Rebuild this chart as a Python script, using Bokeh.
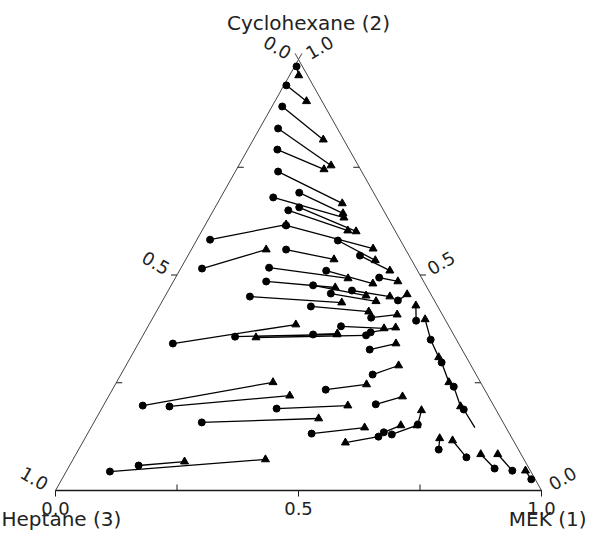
import numpy as np
from bokeh.plotting import figure
from bokeh.core.properties import value
from bokeh.embed import file_html
from bokeh.resources import INLINE

# ---- data: mole fractions (MEK = x1, Cyclohexane = x2; Heptane = 1 - x1 - x2)
# tie lines: circle end -> triangle end
circle_mek = [0.004, 0.005, 0.021, 0.038, 0.061, 0.088, 0.156, 0.108, 0.173, 0.154,
              0.027, 0.167, 0.354, 0.291, 0.044, 0.195, 0.181, 0.302, 0.419, 0.191,
              0.292, 0.378, 0.338, 0.484, 0.175, 0.312, 0.449, 0.545, 0.071, 0.191,
              0.459, 0.349, 0.397, 0.465, 0.483, 0.518, 0.439, 0.559, 0.360, 0.081,
              0.137, 0.222, 0.461, 0.602, 0.608, 0.627, 0.669, 0.090, 0.142, 0.741,
              0.807, 0.878, 0.917, 0.966]
circle_cyc = [0.984, 0.940, 0.891, 0.840, 0.791, 0.740, 0.691, 0.680, 0.657, 0.650,
              0.582, 0.615, 0.545, 0.580, 0.515, 0.559, 0.517, 0.510, 0.494, 0.485,
              0.476, 0.464, 0.457, 0.441, 0.450, 0.427, 0.401, 0.394, 0.341, 0.357,
              0.360, 0.362, 0.381, 0.367, 0.327, 0.269, 0.234, 0.200, 0.190, 0.197,
              0.195, 0.158, 0.132, 0.125, 0.135, 0.130, 0.153, 0.044, 0.058, 0.095,
              0.077, 0.051, 0.046, 0.026]
tri_mek = [0.019, 0.065, 0.144, 0.190, 0.180, 0.257, 0.270, 0.277, 0.318, 0.300,
           0.166, 0.373, 0.433, 0.391, 0.154, 0.305, 0.356, 0.413, 0.462, 0.340,
           0.413, 0.463, 0.440, 0.496, 0.371, 0.437, 0.499, 0.527, 0.302, 0.398,
           0.235, 0.398, 0.488, 0.511, 0.530, 0.561, 0.517, 0.605, 0.503, 0.322,
           0.372, 0.458, 0.563, 0.541, 0.635, 0.668, 0.660, 0.396, 0.232, 0.730,
           0.759, 0.833, 0.868, 0.944]
tri_cyc = [0.963, 0.903, 0.814, 0.754, 0.745, 0.666, 0.643, 0.633, 0.601, 0.603,
           0.617, 0.561, 0.510, 0.534, 0.559, 0.536, 0.492, 0.480, 0.485, 0.471,
           0.452, 0.450, 0.439, 0.455, 0.436, 0.415, 0.408, 0.429, 0.385, 0.362,
           0.355, 0.364, 0.376, 0.378, 0.341, 0.290, 0.246, 0.218, 0.197, 0.251,
           0.220, 0.167, 0.146, 0.111, 0.151, 0.151, 0.186, 0.072, 0.067, 0.121,
           0.116, 0.084, 0.084, 0.046]

# near-plait-point chain of short tie lines on the right
chain_mek = [0.562, 0.597, 0.634, 0.646, 0.684, 0.699, 0.736, 0.746, 0.790]
chain_cyc = [0.397, 0.350, 0.309, 0.297, 0.251, 0.241, 0.195, 0.188, 0.146]
chain_mark = ["triangle", "circle", "triangle", "circle", "triangle", "circle",
              "triangle", "circle", "none"]

tick_minor = [0.25, 0.75]
tick_major = [0.0, 0.5, 1.0]
major_labels = ["0.0", "0.5", "1.0"]
title_bottom_left = "Heptane (3)"
title_bottom_right = "MEK (1)"
title_top = "Cyclohexane (2)"

# ---- geometry (pixels per unit of the ternary frame)
PX, PY = 486.0, 431.0
W, H = 587, 530
LEFT_PAD, BOTTOM_PAD = 55, 40


def tern(x1, x2):
    x1 = np.asarray(x1, float)
    x2 = np.asarray(x2, float)
    return x1 + 0.5 * x2, x2


p = figure(width=W, height=H,
           x_range=(-LEFT_PAD / PX, (W - LEFT_PAD) / PX),
           y_range=(-BOTTOM_PAD / PY, (H - BOTTOM_PAD) / PY),
           output_backend="svg", toolbar_location=None,
           x_axis_type=None, y_axis_type=None, min_border=0)
p.outline_line_color = None
p.background_fill_color = "white"
p.border_fill_color = "white"

INK = "#1a1a1a"

# triangle frame (with small "x" overshoot at apex)
ext = 7.0 / np.hypot(0.5 * PX, PY)
p.line([0, 0.5 + 0.5 * ext], [0, 1 + ext], line_color="#444444", line_width=1)
p.line([1, 0.5 - 0.5 * ext], [0, 1 + ext], line_color="#444444", line_width=1)
p.line([0, 1], [0, 0], line_color=INK, line_width=1.6)

# ticks
tl = 6.0
bx0, by0, bx1, by1 = [], [], [], []
for v in tick_minor:
    bx0.append(v); by0.append(0); bx1.append(v); by1.append(tl / PY)
for v in tick_major:
    bx0.append(v); by0.append(0); bx1.append(v); by1.append(-tl / PY)
p.segment(bx0, by0, bx1, by1, line_color=INK, line_width=1)

sx0, sy0, sx1, sy1 = [], [], [], []
for v in tick_minor + [0.5]:
    inward = v in tick_minor
    c = 1 - v
    lx, ly = tern(0, c)
    d = (tl if inward else -tl) / PX
    sx0.append(float(lx)); sy0.append(float(ly)); sx1.append(float(lx) + d); sy1.append(float(ly))
    rx, ry = tern(1 - v, v)
    sx0.append(float(rx)); sy0.append(float(ry)); sx1.append(float(rx) - d); sy1.append(float(ry))
p.segment(sx0, sy0, sx1, sy1, line_color=INK, line_width=1)

# tie lines
cx, cy = tern(circle_mek, circle_cyc)
tx, ty = tern(tri_mek, tri_cyc)
p.segment(cx, cy, tx, ty, line_color="black", line_width=1.3)

chx, chy = tern(chain_mek, chain_cyc)
p.line(chx, chy, line_color="black", line_width=1.3)

p.scatter(cx, cy, marker="circle", size=7, color="black")
p.scatter(tx, ty, marker="triangle", size=8, color="black")
ch_c = [i for i, m in enumerate(chain_mark) if m == "circle"]
ch_t = [i for i, m in enumerate(chain_mark) if m == "triangle"]
p.scatter(chx[ch_c], chy[ch_c], marker="circle", size=7, color="black")
p.scatter(chx[ch_t], chy[ch_t], marker="triangle", size=8, color="black")

FONT = value("DejaVu Sans")
TCOL = "#222222"

# bottom labels (MEK)
p.text(x=tick_major, y=[-18 / PY] * 3, text=major_labels, text_font=FONT,
       text_font_size="18px", text_align="center", text_baseline="middle",
       text_color=TCOL)

# left side labels (heptane), rotated perpendicular to the side
dn = 10.0
nlx, nly = -0.872 * dn / PX, 0.49 * dn / PY
lpx, lpy = tern([0, 0, 0], [1 - v for v in tick_major])
p.text(x=list(lpx + nlx), y=list(lpy + nly), text=major_labels, angle=-np.pi / 6,
       text_font=FONT, text_font_size="18px", text_align="right",
       text_baseline="middle", text_color=TCOL)

# right side labels (cyclohexane), rotated perpendicular to the side
nrx, nry = 0.872 * dn / PX, 0.49 * dn / PY
rpx, rpy = tern([1 - v for v in tick_major], tick_major)
p.text(x=list(rpx + nrx), y=list(rpy + nry), text=major_labels, angle=np.pi / 6,
       text_font=FONT, text_font_size="18px", text_align="left",
       text_baseline="middle", text_color=TCOL)

# component titles
p.text(x=[0.5 + 10 / PX], y=[1 + 37 / PY], text=[title_top], text_font=FONT,
       text_font_size="20px", text_align="center", text_baseline="alphabetic",
       text_color=TCOL)
p.text(x=[-54 / PX], y=[-28 / PY], text=[title_bottom_left], text_font=FONT,
       text_font_size="20px", text_align="left", text_baseline="middle",
       text_color=TCOL)
p.text(x=[1 + 45 / PX], y=[-28 / PY], text=[title_bottom_right], text_font=FONT,
       text_font_size="20px", text_align="right", text_baseline="middle",
       text_color=TCOL)

open("out.html", "w").write(file_html(p, INLINE))
